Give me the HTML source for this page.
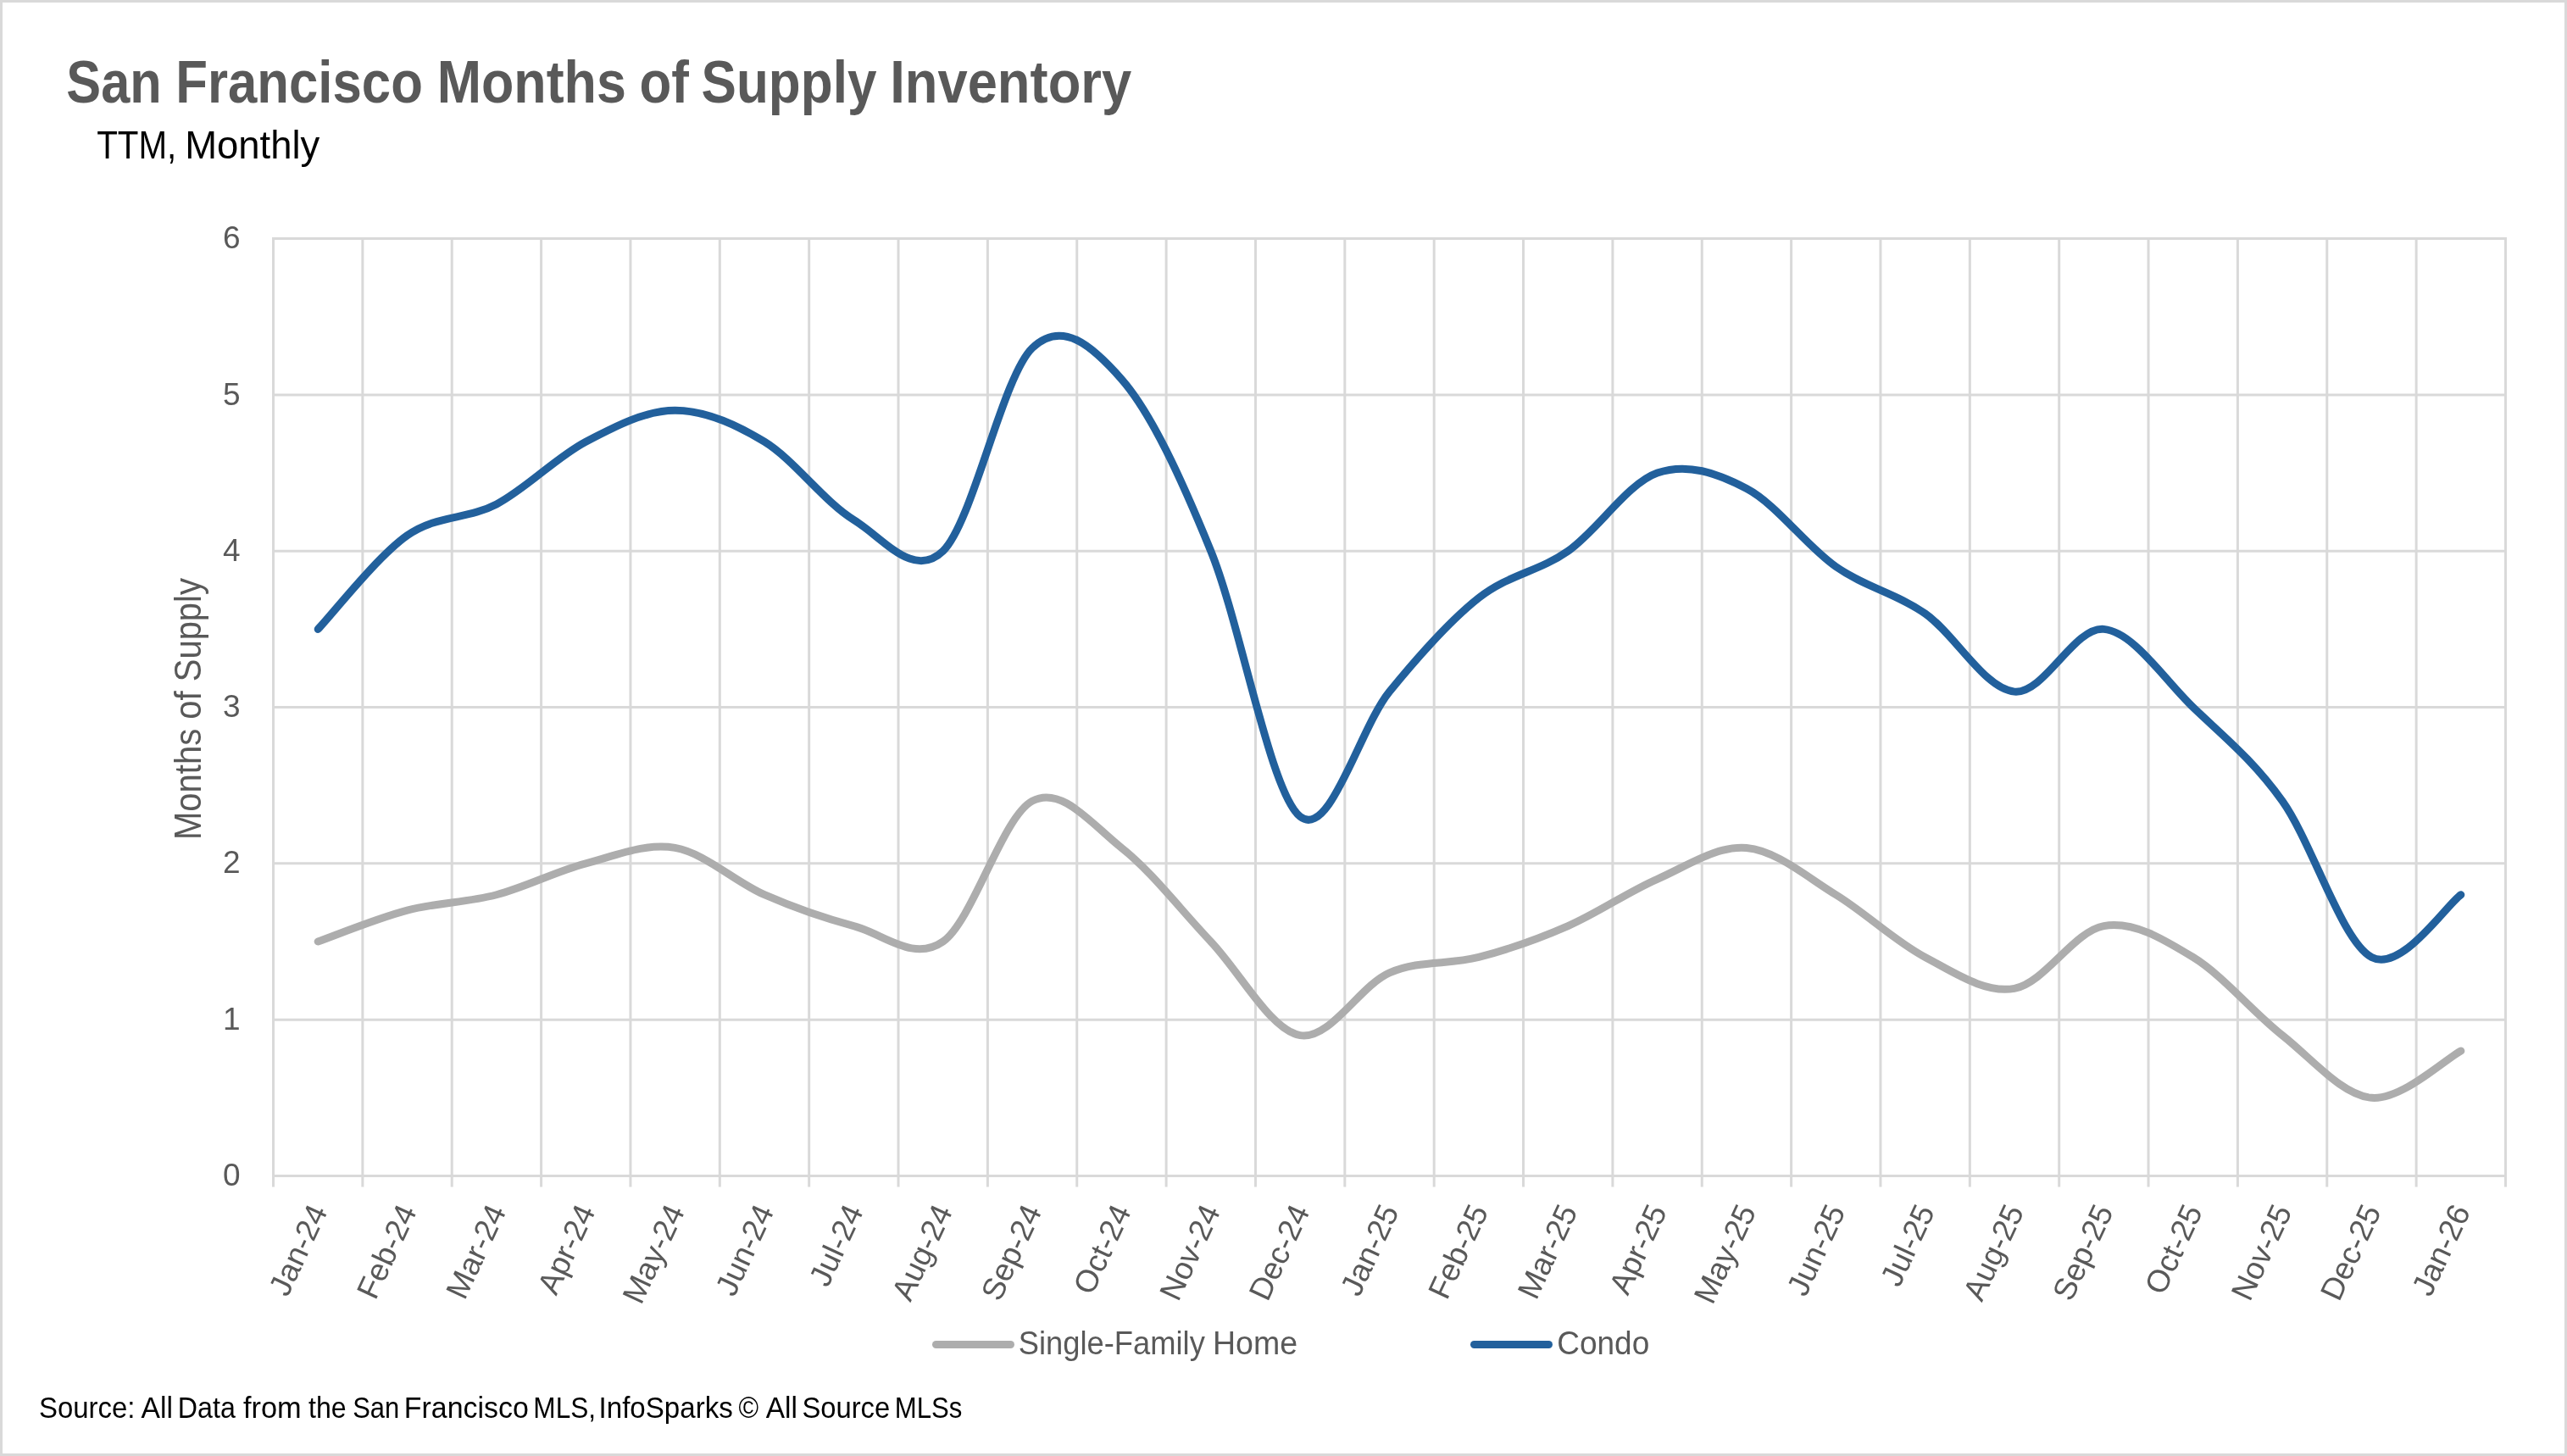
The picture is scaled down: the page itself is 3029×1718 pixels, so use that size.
<!DOCTYPE html>
<html><head><meta charset="utf-8">
<style>
html,body{margin:0;padding:0;background:#fff;}
body{width:3029px;height:1718px;overflow:hidden;position:relative;}
svg{position:absolute;left:0;top:0;will-change:transform;}
text{font-family:"Liberation Sans",sans-serif;}
</style></head><body>
<svg width="3029" height="1718" viewBox="0 0 3029 1718">
<rect x="1.5" y="1.5" width="3026" height="1715" fill="#fff" stroke="#d9d9d9" stroke-width="3"/>
<text x="78.34" y="121" font-size="70" fill="#595959" font-weight="bold" textLength="112.40" lengthAdjust="spacingAndGlyphs">San</text>
<text x="207.35" y="121" font-size="70" fill="#595959" font-weight="bold" textLength="291.49" lengthAdjust="spacingAndGlyphs">Francisco</text>
<text x="515.71" y="121" font-size="70" fill="#595959" font-weight="bold" textLength="223.14" lengthAdjust="spacingAndGlyphs">Months</text>
<text x="754.41" y="121" font-size="70" fill="#595959" font-weight="bold" textLength="58.40" lengthAdjust="spacingAndGlyphs">of</text>
<text x="827.60" y="121" font-size="70" fill="#595959" font-weight="bold" textLength="206.80" lengthAdjust="spacingAndGlyphs">Supply</text>
<text x="1050.16" y="121" font-size="70" fill="#595959" font-weight="bold" textLength="285.04" lengthAdjust="spacingAndGlyphs">Inventory</text>
<text x="114.18" y="187" font-size="47" fill="#000" textLength="94.11" lengthAdjust="spacingAndGlyphs">TTM,</text>
<text x="218.16" y="187" font-size="47" fill="#000" textLength="159.05" lengthAdjust="spacingAndGlyphs">Monthly</text>
<text x="1201.80" y="1598" font-size="39" fill="#595959" textLength="220.00" lengthAdjust="spacingAndGlyphs">Single-Family</text>
<text x="1430.93" y="1598" font-size="39" fill="#595959" textLength="100.11" lengthAdjust="spacingAndGlyphs">Home</text>
<text x="1837.19" y="1598" font-size="39" fill="#595959" textLength="109.03" lengthAdjust="spacingAndGlyphs">Condo</text>
<text x="45.97" y="1673" font-size="35.8" fill="#000" textLength="113.48" lengthAdjust="spacingAndGlyphs">Source:</text>
<text x="166.60" y="1673" font-size="35.8" fill="#000" textLength="37.42" lengthAdjust="spacingAndGlyphs">All</text>
<text x="209.80" y="1673" font-size="35.8" fill="#000" textLength="68.02" lengthAdjust="spacingAndGlyphs">Data</text>
<text x="286.99" y="1673" font-size="35.8" fill="#000" textLength="68.65" lengthAdjust="spacingAndGlyphs">from</text>
<text x="364.00" y="1673" font-size="35.8" fill="#000" textLength="44.60" lengthAdjust="spacingAndGlyphs">the</text>
<text x="416.17" y="1673" font-size="35.8" fill="#000" textLength="55.05" lengthAdjust="spacingAndGlyphs">San</text>
<text x="476.76" y="1673" font-size="35.8" fill="#000" textLength="147.06" lengthAdjust="spacingAndGlyphs">Francisco</text>
<text x="629.30" y="1673" font-size="35.8" fill="#000" textLength="73.80" lengthAdjust="spacingAndGlyphs">MLS,</text>
<text x="706.57" y="1673" font-size="35.8" fill="#000" textLength="158.24" lengthAdjust="spacingAndGlyphs">InfoSparks</text>
<text x="871.42" y="1673" font-size="35.8" fill="#000" textLength="23.58" lengthAdjust="spacingAndGlyphs">©</text>
<text x="903.79" y="1673" font-size="35.8" fill="#000" textLength="37.17" lengthAdjust="spacingAndGlyphs">All</text>
<text x="946.39" y="1673" font-size="35.8" fill="#000" textLength="103.82" lengthAdjust="spacingAndGlyphs">Source</text>
<text x="1055.76" y="1673" font-size="35.8" fill="#000" textLength="79.66" lengthAdjust="spacingAndGlyphs">MLSs</text>
<g stroke="#d9d9d9" stroke-width="3" fill="none">
<line x1="321.00" y1="1387.50" x2="2958.00" y2="1387.50"/>
<line x1="321.00" y1="1203.18" x2="2958.00" y2="1203.18"/>
<line x1="321.00" y1="1018.87" x2="2958.00" y2="1018.87"/>
<line x1="321.00" y1="834.55" x2="2958.00" y2="834.55"/>
<line x1="321.00" y1="650.23" x2="2958.00" y2="650.23"/>
<line x1="321.00" y1="465.92" x2="2958.00" y2="465.92"/>
<line x1="321.00" y1="281.60" x2="2958.00" y2="281.60"/>
<line x1="322.50" y1="280.10" x2="322.50" y2="1400.50"/>
<line x1="427.86" y1="280.10" x2="427.86" y2="1400.50"/>
<line x1="533.22" y1="280.10" x2="533.22" y2="1400.50"/>
<line x1="638.58" y1="280.10" x2="638.58" y2="1400.50"/>
<line x1="743.94" y1="280.10" x2="743.94" y2="1400.50"/>
<line x1="849.30" y1="280.10" x2="849.30" y2="1400.50"/>
<line x1="954.66" y1="280.10" x2="954.66" y2="1400.50"/>
<line x1="1060.02" y1="280.10" x2="1060.02" y2="1400.50"/>
<line x1="1165.38" y1="280.10" x2="1165.38" y2="1400.50"/>
<line x1="1270.74" y1="280.10" x2="1270.74" y2="1400.50"/>
<line x1="1376.10" y1="280.10" x2="1376.10" y2="1400.50"/>
<line x1="1481.46" y1="280.10" x2="1481.46" y2="1400.50"/>
<line x1="1586.82" y1="280.10" x2="1586.82" y2="1400.50"/>
<line x1="1692.18" y1="280.10" x2="1692.18" y2="1400.50"/>
<line x1="1797.54" y1="280.10" x2="1797.54" y2="1400.50"/>
<line x1="1902.90" y1="280.10" x2="1902.90" y2="1400.50"/>
<line x1="2008.26" y1="280.10" x2="2008.26" y2="1400.50"/>
<line x1="2113.62" y1="280.10" x2="2113.62" y2="1400.50"/>
<line x1="2218.98" y1="280.10" x2="2218.98" y2="1400.50"/>
<line x1="2324.34" y1="280.10" x2="2324.34" y2="1400.50"/>
<line x1="2429.70" y1="280.10" x2="2429.70" y2="1400.50"/>
<line x1="2535.06" y1="280.10" x2="2535.06" y2="1400.50"/>
<line x1="2640.42" y1="280.10" x2="2640.42" y2="1400.50"/>
<line x1="2745.78" y1="280.10" x2="2745.78" y2="1400.50"/>
<line x1="2851.14" y1="280.10" x2="2851.14" y2="1400.50"/>
<line x1="2956.50" y1="280.10" x2="2956.50" y2="1400.50"/>
</g>
<g font-size="37" fill="#595959" text-anchor="end">
<text x="283.6" y="1399.10">0</text>
<text x="283.6" y="1214.78">1</text>
<text x="283.6" y="1030.47">2</text>
<text x="283.6" y="846.15">3</text>
<text x="283.6" y="661.83">4</text>
<text x="283.6" y="477.52">5</text>
<text x="283.6" y="293.20">6</text>
</g>
<g font-size="37" fill="#595959" text-anchor="end">
<text transform="translate(387.18 1429.00) rotate(-65)">Jan-24</text>
<text transform="translate(492.54 1429.00) rotate(-65)">Feb-24</text>
<text transform="translate(597.90 1429.00) rotate(-65)">Mar-24</text>
<text transform="translate(703.26 1429.00) rotate(-65)">Apr-24</text>
<text transform="translate(808.62 1429.00) rotate(-65)">May-24</text>
<text transform="translate(913.98 1429.00) rotate(-65)">Jun-24</text>
<text transform="translate(1019.34 1429.00) rotate(-65)">Jul-24</text>
<text transform="translate(1124.70 1429.00) rotate(-65)">Aug-24</text>
<text transform="translate(1230.06 1429.00) rotate(-65)">Sep-24</text>
<text transform="translate(1335.42 1429.00) rotate(-65)">Oct-24</text>
<text transform="translate(1440.78 1429.00) rotate(-65)">Nov-24</text>
<text transform="translate(1546.14 1429.00) rotate(-65)">Dec-24</text>
<text transform="translate(1651.50 1429.00) rotate(-65)">Jan-25</text>
<text transform="translate(1756.86 1429.00) rotate(-65)">Feb-25</text>
<text transform="translate(1862.22 1429.00) rotate(-65)">Mar-25</text>
<text transform="translate(1967.58 1429.00) rotate(-65)">Apr-25</text>
<text transform="translate(2072.94 1429.00) rotate(-65)">May-25</text>
<text transform="translate(2178.30 1429.00) rotate(-65)">Jun-25</text>
<text transform="translate(2283.66 1429.00) rotate(-65)">Jul-25</text>
<text transform="translate(2389.02 1429.00) rotate(-65)">Aug-25</text>
<text transform="translate(2494.38 1429.00) rotate(-65)">Sep-25</text>
<text transform="translate(2599.74 1429.00) rotate(-65)">Oct-25</text>
<text transform="translate(2705.10 1429.00) rotate(-65)">Nov-25</text>
<text transform="translate(2810.46 1429.00) rotate(-65)">Dec-25</text>
<text transform="translate(2915.82 1429.00) rotate(-65)">Jan-26</text>
</g>
<text transform="translate(237 991) rotate(-90)" font-size="43.5" fill="#595959" textLength="309" lengthAdjust="spacingAndGlyphs">Months of Supply</text>
<g fill="none" stroke-width="9" stroke-linecap="round" stroke-linejoin="round">
<path stroke="#ADADAD" d="M375.18 1111.03 C392.74 1104.88 445.42 1083.38 480.54 1074.16 C515.66 1064.95 550.78 1064.95 585.90 1055.73 C621.02 1046.51 656.14 1028.08 691.26 1018.87 C726.38 1009.65 761.50 994.29 796.62 1000.43 C831.74 1006.58 866.86 1040.37 901.98 1055.73 C937.10 1071.09 972.22 1083.38 1007.34 1092.59 C1042.46 1101.81 1077.58 1135.60 1112.70 1111.03 C1147.82 1086.45 1182.94 963.57 1218.06 945.14 C1253.18 926.71 1288.30 972.79 1323.42 1000.43 C1358.54 1028.08 1393.66 1074.16 1428.78 1111.03 C1463.90 1147.89 1499.02 1215.47 1534.14 1221.62 C1569.26 1227.76 1604.38 1163.25 1639.50 1147.89 C1674.62 1132.53 1709.74 1138.67 1744.86 1129.46 C1779.98 1120.24 1815.10 1107.95 1850.22 1092.59 C1885.34 1077.23 1920.46 1052.66 1955.58 1037.30 C1990.70 1021.94 2025.82 997.36 2060.94 1000.43 C2096.06 1003.51 2131.18 1034.23 2166.30 1055.73 C2201.42 1077.23 2236.54 1111.03 2271.66 1129.46 C2306.78 1147.89 2341.90 1172.46 2377.02 1166.32 C2412.14 1160.18 2447.26 1098.74 2482.38 1092.59 C2517.50 1086.45 2552.62 1107.95 2587.74 1129.46 C2622.86 1150.96 2657.98 1193.97 2693.10 1221.62 C2728.22 1249.26 2763.34 1292.27 2798.46 1295.34 C2833.58 1298.41 2886.26 1249.26 2903.82 1240.05"/>
<path stroke="#22609C" d="M375.18 742.39 C392.74 723.96 445.42 656.38 480.54 631.80 C515.66 607.23 550.78 613.37 585.90 594.94 C621.02 576.51 656.14 539.64 691.26 521.21 C726.38 502.78 761.50 484.35 796.62 484.35 C831.74 484.35 866.86 499.71 901.98 521.21 C937.10 542.72 972.22 591.87 1007.34 613.37 C1042.46 634.87 1077.58 684.02 1112.70 650.23 C1147.82 616.44 1182.94 444.41 1218.06 410.62 C1253.18 376.83 1288.30 407.55 1323.42 447.48 C1358.54 487.42 1393.66 564.22 1428.78 650.23 C1463.90 736.25 1499.02 935.92 1534.14 963.57 C1569.26 991.22 1604.38 859.13 1639.50 816.12 C1674.62 773.11 1709.74 733.18 1744.86 705.53 C1779.98 677.88 1815.10 674.81 1850.22 650.23 C1885.34 625.66 1920.46 570.36 1955.58 558.07 C1990.70 545.79 2025.82 558.07 2060.94 576.51 C2096.06 594.94 2131.18 644.09 2166.30 668.66 C2201.42 693.24 2236.54 699.38 2271.66 723.96 C2306.78 748.54 2341.90 813.05 2377.02 816.12 C2412.14 819.19 2447.26 739.32 2482.38 742.39 C2517.50 745.46 2552.62 800.76 2587.74 834.55 C2622.86 868.34 2657.98 895.99 2693.10 945.14 C2728.22 994.29 2763.34 1111.03 2798.46 1129.46 C2833.58 1147.89 2886.26 1068.02 2903.82 1055.73"/>
<line x1="1104.5" y1="1586.5" x2="1192.5" y2="1586.5" stroke="#ADADAD"/>
<line x1="1739.5" y1="1586.5" x2="1827.5" y2="1586.5" stroke="#22609C"/>
</g>
</svg>
</body></html>
